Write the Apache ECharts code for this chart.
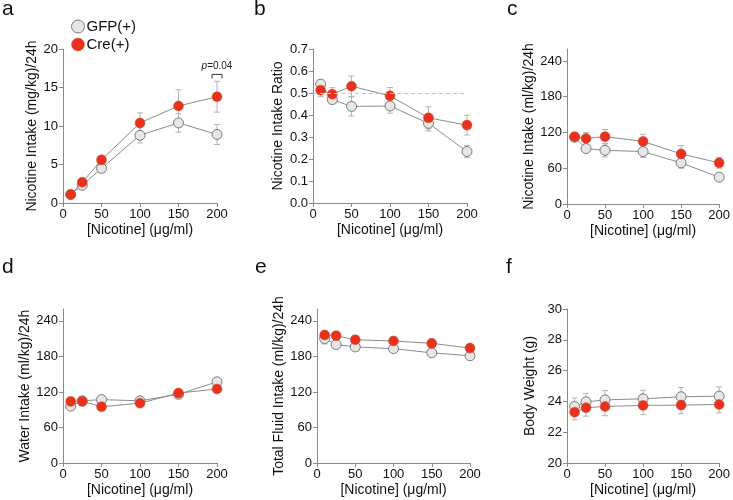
<!DOCTYPE html>
<html>
<head>
<meta charset="utf-8">
<script src="https://cdn.jsdelivr.net/npm/echarts@6/dist/echarts.min.js"></script>
<style>
  html, body { margin: 0; padding: 0; background: #fff; }
  #chart { width: 733px; height: 500px; }
</style>
</head>
<body>
<div id="chart"></div>
<script>
// doses on the x axis
const doses = [10, 25, 50, 100, 150, 200];
const xTicks = [0, 50, 100, 150, 200];
const fluidTicks = [0, 60, 120, 180, 240];

// a - nicotine intake (mg/kg)/24h
const gfpNicMg = [1.1, 2.3, 4.5, 8.8, 10.4, 8.9];
const gfpNicMgErr = [0.2, 0.3, 0.4, 1.0, 1.2, 1.3];
const creNicMg = [1.1, 2.7, 5.6, 10.4, 12.6, 13.8];
const creNicMgErr = [0.2, 0.3, 0.6, 1.3, 2.1, 2.0];

// b - nicotine intake ratio
const gfpRatio = [0.540, 0.470, 0.439, 0.441, 0.362, 0.234];
const gfpRatioErr = [0.020, 0.020, 0.043, 0.033, 0.035, 0.028];
const creRatio = [0.513, 0.494, 0.531, 0.487, 0.387, 0.354];
const creRatioErr = [0.030, 0.030, 0.046, 0.038, 0.050, 0.045];

// c - nicotine intake (ml/kg)/24h
const gfpNicMl = [112, 93, 90, 88, 69, 45];
const gfpNicMlErr = [5, 5, 11, 10, 9, 4];
const creNicMl = [113, 110, 113, 105, 84, 69];
const creNicMlErr = [5, 10, 12, 12, 14, 9];

// d - water intake (ml/kg)/24h
const gfpWater = [96, 105, 107, 105, 116, 137];
const gfpWaterErr = [5, 4, 5, 4, 5, 5];
const creWater = [104, 104, 95, 101, 118, 125];
const creWaterErr = [5, 5, 5, 4, 6, 6];

// e - total fluid intake (ml/kg)/24h
const gfpTotal = [210, 200, 196, 193, 186, 181];
const gfpTotalErr = [9, 5, 6, 6, 5, 5];
const creTotal = [216, 215, 208, 206, 202, 194];
const creTotalErr = [7, 6, 7, 7, 7, 6];

// f - body weight (g)
const gfpWeight = [23.67, 23.97, 24.10, 24.17, 24.30, 24.34];
const gfpWeightErr = [0.55, 0.55, 0.6, 0.55, 0.6, 0.6];
const creWeight = [23.30, 23.59, 23.67, 23.74, 23.76, 23.80];
const creWeightErr = [0.5, 0.55, 0.6, 0.6, 0.55, 0.55];

const FONT = '"Liberation Sans", Arial, Helvetica, sans-serif';
const axisGray = '#8a8a8a';
const gfpFill = '#e6e6e6';
const gfpBorder = '#7a7a7a';
const creFill = '#e8321c';

const panels = [
  { letter: 'a', grid: { left: 63, top: 49, width: 154, height: 154 }, yName: 'Nicotine Intake (mg/kg)/24h', yMin: 0, yMax: 20, yInt: 5, gap: 23,
    gfp: gfpNicMg, gfpErr: gfpNicMgErr, cre: creNicMg, creErr: creNicMgErr },
  { letter: 'b', grid: { left: 313, top: 49, width: 154, height: 154 }, yName: 'Nicotine Intake Ratio', yMin: 0, yMax: 0.7, yInt: 0.1, gap: 28,
    gfp: gfpRatio, gfpErr: gfpRatioErr, cre: creRatio, creErr: creRatioErr, fmt: v => v.toFixed(1), ref: 0.5 },
  { letter: 'c', grid: { left: 567, top: 49, width: 155, height: 155 }, yName: 'Nicotine Intake (ml/kg)/24h', yMin: 0, yMax: 260, ticks: fluidTicks, gap: 28,
    gfp: gfpNicMl, gfpErr: gfpNicMlErr, cre: creNicMl, creErr: creNicMlErr },
  { letter: 'd', grid: { left: 63, top: 309, width: 154, height: 154 }, yName: 'Water Intake (ml/kg)/24h', yMin: 0, yMax: 260, ticks: fluidTicks, gap: 21,
    gfp: gfpWater, gfpErr: gfpWaterErr, cre: creWater, creErr: creWaterErr },
  { letter: 'e', grid: { left: 317, top: 309, width: 153, height: 154 }, yName: 'Total Fluid Intake (ml/kg)/24h', yMin: 0, yMax: 260, ticks: fluidTicks, gap: 30,
    gfp: gfpTotal, gfpErr: gfpTotalErr, cre: creTotal, creErr: creTotalErr },
  { letter: 'f', grid: { left: 567, top: 309, width: 155, height: 154 }, yName: 'Body Weight (g)', yMin: 20, yMax: 30, yInt: 2, gap: 30,
    gfp: gfpWeight, gfpErr: gfpWeightErr, cre: creWeight, creErr: creWeightErr }
];

const letterPos = [[2, -1], [254, -1], [507, -1], [2, 257], [255, 257], [506, 257]];

function pairs(vals, errs) {
  return doses.map((d, i) => errs ? [d, vals[i], errs[i]] : [d, vals[i]]);
}

function errorBar(params, api) {
  const x = api.value(0), y = api.value(1), e = api.value(2);
  const hi = api.coord([x, y + e]);
  const lo = api.coord([x, y - e]);
  const w = 3;
  const st = { stroke: '#b4b4b4', lineWidth: 1 };
  return {
    type: 'group',
    children: [
      { type: 'line', shape: { x1: hi[0], y1: hi[1], x2: lo[0], y2: lo[1] }, style: st },
      { type: 'line', shape: { x1: hi[0] - w, y1: hi[1], x2: hi[0] + w, y2: hi[1] }, style: st },
      { type: 'line', shape: { x1: lo[0] - w, y1: lo[1], x2: lo[0] + w, y2: lo[1] }, style: st }
    ]
  };
}

// p-value bracket over the 200 ug/ml point in panel a
const pMark = [[200, 16.7]];
function pBracket(params, api) {
  const p = api.coord([api.value(0), api.value(1)]);
  const w = 5;
  return {
    type: 'group',
    children: [
      { type: 'polyline', shape: { points: [[p[0] - w, p[1] + 4], [p[0] - w, p[1]], [p[0] + w, p[1]], [p[0] + w, p[1] + 4]] },
        style: { stroke: '#333', lineWidth: 1, fill: null } },
      { type: 'text', x: p[0], y: p[1] - 3,
        style: { text: '{i|p}=0.04', align: 'center', verticalAlign: 'bottom', fontSize: 10, fontFamily: FONT, fill: '#222',
          rich: { i: { fontStyle: 'italic', fontSize: 10, fontFamily: FONT, fill: '#222' } } } }
    ]
  };
}

const grids = [], xAxes = [], yAxes = [], series = [], graphics = [];

panels.forEach((p, k) => {
  grids.push(p.grid);
  xAxes.push({
    gridIndex: k, type: 'value', min: 0, max: 200, interval: 50,
    name: '[Nicotine] (\u03bcg/ml)', nameLocation: 'middle', nameGap: 20,
    nameTextStyle: { fontSize: 14, fontFamily: FONT, color: '#111' },
    axisLine: { onZero: false, lineStyle: { color: axisGray, width: 1 } },
    axisTick: { length: 4, lineStyle: { color: axisGray } },
    axisLabel: { fontSize: 13, fontFamily: FONT, color: '#111', margin: 5 },
    splitLine: { show: false }
  });
  const y = {
    gridIndex: k, type: 'value', min: p.yMin, max: p.yMax,
    name: p.yName, nameLocation: 'middle', nameGap: p.gap, nameRotate: 90,
    nameTextStyle: { fontSize: 14, fontFamily: FONT, color: '#111' },
    axisLine: { show: true, lineStyle: { color: axisGray, width: 1 } },
    axisTick: { show: true, length: 4, lineStyle: { color: axisGray } },
    axisLabel: { fontSize: 13, fontFamily: FONT, color: '#111', margin: 5 },
    splitLine: { show: false }
  };
  if (p.yInt) y.interval = p.yInt;
  if (p.ticks) {
    y.axisTick.customValues = p.ticks;
    y.axisLabel.customValues = p.ticks;
  }
  if (p.fmt) y.axisLabel.formatter = p.fmt;
  yAxes.push(y);

  series.push({
    type: 'custom', xAxisIndex: k, yAxisIndex: k, renderItem: errorBar, z: 1,
    data: pairs(p.gfp, p.gfpErr), silent: true
  });
  series.push({
    type: 'custom', xAxisIndex: k, yAxisIndex: k, renderItem: errorBar, z: 1,
    data: pairs(p.cre, p.creErr), silent: true
  });
  const gfpLine = {
    name: 'GFP(+)', type: 'line', xAxisIndex: k, yAxisIndex: k, z: 2,
    data: pairs(p.gfp), symbol: 'circle', symbolSize: 10,
    lineStyle: { color: '#8c8c8c', width: 1 },
    itemStyle: { color: gfpFill, borderColor: gfpBorder, borderWidth: 1 }
  };
  if (p.ref !== undefined) {
    gfpLine.markLine = {
      silent: true, symbol: 'none', label: { show: false },
      lineStyle: { color: '#c4c4c4', type: [4, 3], width: 1 },
      data: [{ yAxis: p.ref }]
    };
  }
  series.push(gfpLine);
  series.push({
    name: 'Cre(+)', type: 'line', xAxisIndex: k, yAxisIndex: k, z: 3,
    data: pairs(p.cre), symbol: 'circle', symbolSize: 10,
    lineStyle: { color: '#8c8c8c', width: 1 },
    itemStyle: { color: creFill, borderColor: '#c9574a', borderWidth: 0.5 }
  });

  graphics.push({
    type: 'text', left: letterPos[k][0], top: letterPos[k][1],
    style: { text: p.letter, fontSize: 21, fontFamily: FONT, fill: '#111' }
  });
});

series.push({
  type: 'custom', xAxisIndex: 0, yAxisIndex: 0, renderItem: pBracket, z: 4,
  data: pMark, silent: true, clip: false
});

const chart = echarts.init(document.getElementById('chart'), null, { renderer: 'canvas' });
chart.setOption({
  animation: false,
  backgroundColor: '#fff',
  textStyle: { fontFamily: FONT },
  grid: grids,
  xAxis: xAxes,
  yAxis: yAxes,
  series: series,
  graphic: graphics,
  legend: {
    left: 66, top: 14, orient: 'vertical', itemGap: 3, itemWidth: 13, itemHeight: 13, icon: 'circle',
    textStyle: { fontSize: 15, fontFamily: FONT, color: '#111', padding: [0, 0, 0, -3] },
    data: [
      { name: 'GFP(+)', itemStyle: { color: gfpFill, borderColor: gfpBorder, borderWidth: 1 } },
      { name: 'Cre(+)', itemStyle: { color: creFill, borderColor: '#c9574a', borderWidth: 0.5 } }
    ]
  }
});
</script>
</body>
</html>
